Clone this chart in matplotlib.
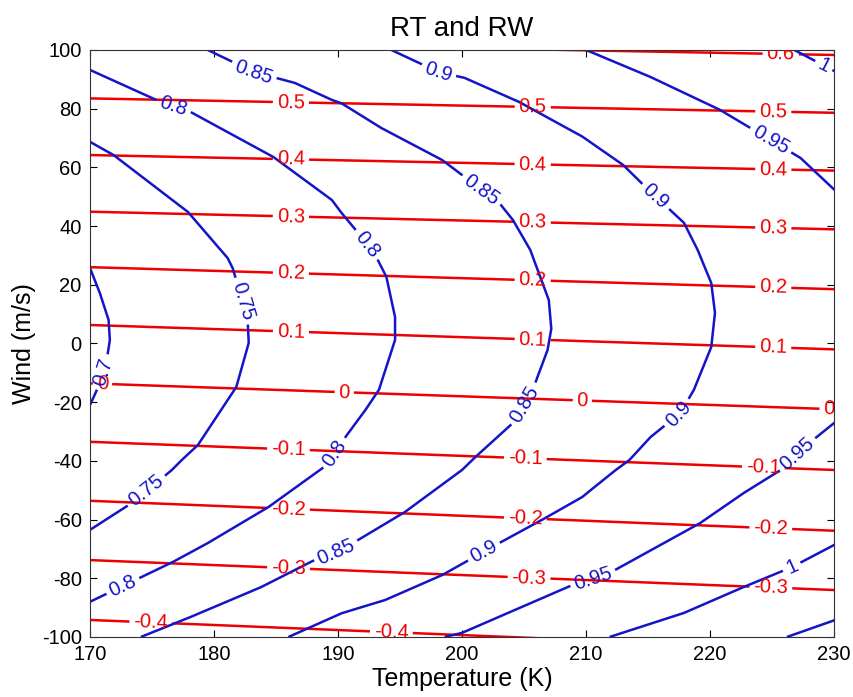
import numpy as np
import matplotlib
matplotlib.use('Agg')
import matplotlib.pyplot as plt
from matplotlib.contour import ContourSet

plt.rcParams['font.family'] = ['Liberation Sans', 'DejaVu Sans']
plt.rcParams['axes.unicode_minus'] = False

# ---- RT contours (blue): T (K) and W (m/s) ----
rt_levels = [0.7, 0.75, 0.8, 0.85, 0.9, 0.95, 1.0, 1.05]

rt_070_T = [170.0, 170.8, 171.5, 171.6, 171.35, 170.8, 170.0]
rt_070_W = [25.7, 17.1, 8.0, 1.2, -5.6, -13.5, -21.0]

rt_075_T = [170.0, 171.9, 177.9, 181.1, 181.5, 182.7, 182.8, 181.8, 178.7, 177.4, 176.6, 173.5, 170.0]
rt_075_W = [68.7, 64.2, 44.8, 29.1, 25.7, 9.0, 0.2, -14.8, -34.6, -39.7, -43.1, -54.0, -63.5]

rt_080_T = [170.0, 175.7, 178.1, 184.8, 189.5, 190.3, 191.9, 193.0, 193.9, 194.6, 194.6, 193.3,
            192.2, 190.0, 189.1, 184.4, 179.5, 176.7, 170.0]
rt_080_W = [93.2, 82.3, 78.9, 63.5, 48.9, 44.4, 36.3, 30.2, 22.7, 9.0, 1.2, -15.8,
            -22.7, -35.3, -41.4, -55.7, -68.0, -74.4, -88.0]

rt_085_T = [179.5, 183.2, 186.5, 189.5, 190.3, 193.5, 198.4, 203.0, 204.1, 205.5, 207.0, 207.2,
            206.9, 205.7, 204.1, 201.1, 200.0, 195.4, 191.6, 190.3, 188.1, 183.8, 178.1, 174.1]
rt_085_W = [100.0, 92.5, 88.8, 83.0, 81.8, 73.4, 62.5, 47.9, 42.1, 31.9, 14.8, 5.0,
            -2.2, -15.8, -27.1, -38.6, -43.1, -57.4, -67.0, -70.4, -73.8, -83.0, -93.2, -100.0]

rt_090_T = [194.3, 198.1, 200.2, 204.6, 209.7, 213.0, 214.8, 217.9, 219.0, 220.1, 220.4,
            220.1, 218.7, 217.6, 215.2, 213.5, 212.4, 210.6, 209.7, 206.7, 203.0, 198.4, 193.8,
            190.3, 186.0]
rt_090_W = [100.0, 92.5, 90.5, 82.3, 70.5, 60.8, 53.3, 41.1, 31.9, 20.6, 10.4,
            -1.2, -15.8, -23.7, -31.9, -39.7, -43.1, -49.2, -52.3, -59.5, -68.0, -78.9, -87.4,
            -91.9, -100.0]

rt_095a_T = [210.0, 215.2, 220.8, 224.9, 227.3, 230.3]
rt_095a_W = [100.0, 90.8, 79.6, 69.3, 63.2, 51.3]
rt_095b_T = [230.3, 227.3, 225.7, 222.7, 219.2, 211.9, 208.9, 200.0, 198.6]
rt_095b_W = [-26.1, -36.3, -43.1, -51.0, -61.2, -78.2, -82.3, -98.6, -100.0]

rt_100a_T = [226.8, 230.3]
rt_100a_W = [100.0, 92.2]
rt_100b_T = [230.3, 226.6, 222.7, 217.9, 211.9]
rt_100b_W = [-68.0, -76.2, -83.0, -91.8, -100.0]

rt_105_T = [226.2, 230.3]
rt_105_W = [-100.0, -93.9]

# ---- RW contours (red): W where each line meets T=170 and T=230 ----
rw_levels = [-0.4, -0.3, -0.2, -0.1, 0.0, 0.1, 0.2, 0.3, 0.4, 0.5, 0.6]
rw_T_ends = [170.0, 230.0]
rw_W_left = [-94.2, -73.8, -53.6, -33.5, -13.6, 6.3, 26.0, 44.9, 64.2, 83.5, 103.0]
rw_W_right = [-104.5, -84.0, -63.8, -43.1, -22.4, -2.0, 18.5, 38.9, 58.9, 78.6, 98.3]


def seg(t, w):
    return np.column_stack([t, w])


def fmt(v):
    return f'{v:g}'


fig = plt.figure(figsize=(8.54, 6.97), dpi=100)
ax = fig.add_axes([0.1054, 0.0861, 0.8712, 0.8422])

rt_segs = [
    [seg(rt_070_T, rt_070_W)],
    [seg(rt_075_T, rt_075_W)],
    [seg(rt_080_T, rt_080_W)],
    [seg(rt_085_T, rt_085_W)],
    [seg(rt_090_T, rt_090_W)],
    [seg(rt_095a_T, rt_095a_W), seg(rt_095b_T, rt_095b_W)],
    [seg(rt_100a_T, rt_100a_W), seg(rt_100b_T, rt_100b_W)],
    [seg(rt_105_T, rt_105_W)],
]
rw_segs = [[seg(rw_T_ends, [l, r])] for l, r in zip(rw_W_left, rw_W_right)]

cs_w = ContourSet(ax, rw_levels, rw_segs, colors='#ee0000', linewidths=1.8,
                  negative_linestyles='solid')
cs_t = ContourSet(ax, rt_levels, rt_segs, colors='#1414c8', linewidths=1.8)

# label spots (T, W)
rt_label_pos = [(183.2, 92.5), (176.7, 80.2), (198.1, 92.5), (224.9, 69.3), (229.2, 94.9),
                (201.4, 51.3), (192.1, 32.9), (215.6, 50.0), (181.8, 13.8), (171.2, -10.0),
                (204.9, -20.3), (217.4, -23.7), (227.0, -37.5), (189.7, -37.3), (174.7, -51.0),
                (172.8, -84.0), (189.9, -71.4), (201.9, -72.0), (210.6, -80.6), (226.6, -76.2)]
rw_label_pos = [(225.7, 97.6),
                (186.2, 81.9), (205.7, 80.2), (225.1, 78.5),
                (186.2, 62.0), (205.7, 60.8), (225.1, 58.6),
                (186.2, 43.1), (205.7, 41.1), (225.1, 38.9),
                (186.2, 23.5), (205.7, 21.5), (225.1, 19.0),
                (186.2, 3.7), (205.7, 1.0), (225.1, -1.0),
                (171.0, -14.8), (190.5, -17.5), (209.7, -20.3), (229.6, -22.4),
                (186.0, -36.3), (205.1, -39.7), (224.3, -42.5),
                (186.0, -57.4), (205.1, -60.1), (224.9, -63.0),
                (186.0, -77.2), (205.4, -80.6), (224.9, -83.5),
                (174.9, -95.9), (194.3, -98.6)]

ax.clabel(cs_w, manual=rw_label_pos, inline=True, inline_spacing=4, fontsize=14.5, fmt=fmt)
ax.clabel(cs_t, manual=rt_label_pos, inline=True, inline_spacing=4, fontsize=14.5, fmt=fmt)

ax.set_xlim(170, 230)
ax.set_ylim(-100, 100)
ax.set_xticks(np.arange(170, 231, 10))
ax.set_yticks(np.arange(-100, 101, 20))
ax.tick_params(direction='in', top=True, right=True, length=5, width=0.8,
               labelsize=14.5, pad=6)
for sp in ax.spines.values():
    sp.set_linewidth(0.8)
    sp.set_color('#333333')

ax.set_xlabel('Temperature (K)', fontsize=18, labelpad=2)
ax.set_ylabel('Wind (m/s)', fontsize=18, labelpad=4)
ax.set_title('RT and RW', fontsize=20, pad=10)

fig.savefig('out.png', dpi=100)
